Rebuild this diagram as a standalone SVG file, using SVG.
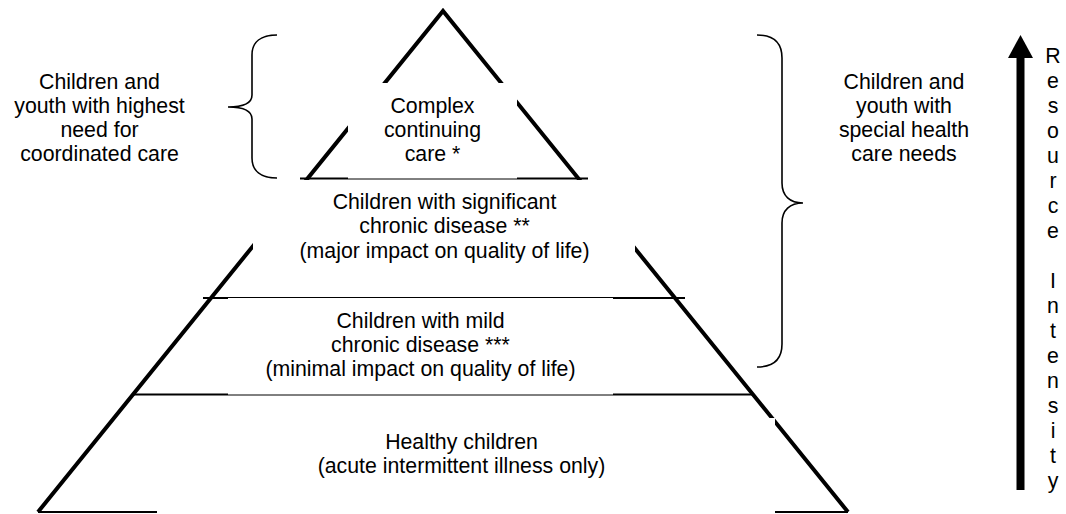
<svg xmlns="http://www.w3.org/2000/svg" width="1066" height="514" viewBox="0 0 1066 514">
  <style>
    .leg { fill: none; stroke: #000; stroke-width: 4; stroke-linejoin: miter; stroke-miterlimit: 10; }
    .tier { stroke: #000; stroke-width: 2.2; }
    .mask { fill: #fff; stroke: none; }
    .brace { fill: none; stroke: #000; stroke-width: 1.6; }
    .axis { stroke: #000; stroke-width: 8; }
    text { font-family: "Liberation Sans", Arial, "Noto Sans", sans-serif; font-size: 21.3px; fill: #000; text-anchor: middle; }
  </style>
  <defs>
    <marker id="ah" markerUnits="userSpaceOnUse" viewBox="0 -13 24 26" refX="0" refY="0" markerWidth="24" markerHeight="26" orient="auto">
      <path d="M0,-12.5 L23,0 L0,12.5 Z" fill="#000"/>
    </marker>
  </defs>

  <g id="pyramid">
    <path class="leg" d="M38,512 L443,11 L848,512"/>
    <line class="tier" x1="300" y1="178.5" x2="588" y2="178.5"/>
    <line class="tier" x1="203" y1="298" x2="685" y2="298"/>
    <line class="tier" x1="133" y1="394.5" x2="752" y2="394.5"/>
    <line class="tier" x1="38" y1="512" x2="848" y2="512"/>
  </g>

  <g id="tier-complex">
    <rect class="mask" x="348" y="83" width="169" height="95.5"/>
    <text x="432.5" y="113.3">Complex</text>
    <text x="432.5" y="137.3">continuing</text>
    <text x="432.5" y="161.3">care *</text>
  </g>

  <g id="tier-significant">
    <rect class="mask" x="253" y="180" width="382" height="112"/>
    <text x="444.5" y="208.5">Children with significant</text>
    <text x="444.5" y="233">chronic disease **</text>
    <text x="444.5" y="257.5">(major impact on quality of life)</text>
  </g>

  <g id="tier-mild">
    <rect class="mask" x="228" y="298" width="385" height="96.5"/>
    <text x="420.5" y="328.3">Children with mild</text>
    <text x="420.5" y="352.3">chronic disease ***</text>
    <text x="420.5" y="376.3">(minimal impact on quality of life)</text>
  </g>

  <g id="tier-healthy">
    <rect class="mask" x="157" y="418" width="618" height="96"/>
    <text x="461.5" y="448.5">Healthy children</text>
    <text x="461.5" y="472.5">(acute intermittent illness only)</text>
  </g>

  <g id="label-highest-need">
    <text x="99.5" y="89.3">Children and</text>
    <text x="99.5" y="113.3">youth with highest</text>
    <text x="99.5" y="137.3">need for</text>
    <text x="99.5" y="161.3">coordinated care</text>
  </g>

  <g id="label-special-needs">
    <text x="904" y="89.3">Children and</text>
    <text x="904" y="113.3">youth with</text>
    <text x="904" y="137.3">special health</text>
    <text x="904" y="161.3">care needs</text>
  </g>

  <g id="label-resource-intensity">
    <text x="1053" y="62.5">R</text>
    <text x="1053" y="87.5">e</text>
    <text x="1053" y="112.5">s</text>
    <text x="1053" y="137.5">o</text>
    <text x="1053" y="162.5">u</text>
    <text x="1053" y="187.5">r</text>
    <text x="1053" y="212.5">c</text>
    <text x="1053" y="237.5">e</text>
    <text x="1053" y="287.5">I</text>
    <text x="1053" y="312.5">n</text>
    <text x="1053" y="337.5">t</text>
    <text x="1053" y="362.5">e</text>
    <text x="1053" y="387.5">n</text>
    <text x="1053" y="412.5">s</text>
    <text x="1053" y="437.5">i</text>
    <text x="1053" y="462.5">t</text>
    <text x="1053" y="487.5">y</text>
  </g>

  <g id="connectors">
    <path class="brace" d="M277,35 C261,35 252,42 252,55 L252,95 C252,103 244,107 228,107 C244,107 252,111 252,119 L252,158 C252,171 261,178 277,178"/>
    <path class="brace" d="M757,35 C774,35 782,43 782,58 L782,183 C782,196 790,203 803,203 C790,203 782,210 782,223 L782,344 C782,359 774,367 757,367"/>
    <line class="axis" x1="1020.5" y1="490" x2="1020.5" y2="58" marker-end="url(#ah)"/>
  </g>
</svg>
